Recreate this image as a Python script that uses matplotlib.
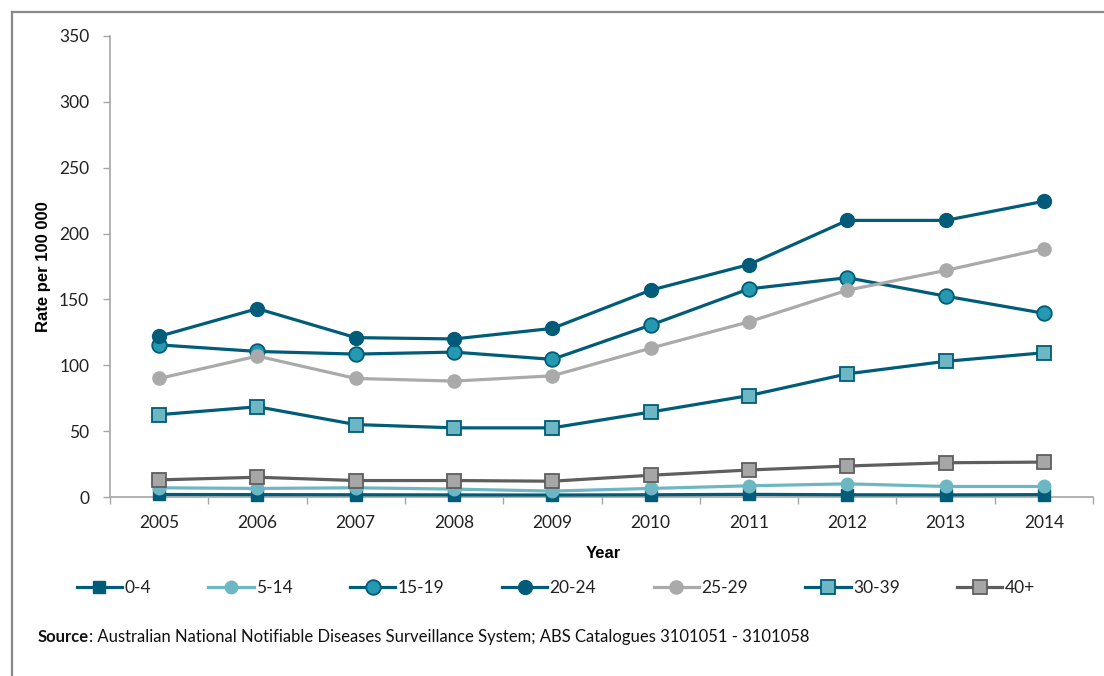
import matplotlib
matplotlib.use("Agg")
import matplotlib.pyplot as plt
from matplotlib.ticker import FixedLocator, MultipleLocator

years = ["2005", "2006", "2007", "2008", "2009", "2010", "2011", "2012", "2013", "2014"]

rate_0_4 = [1.9, 1.8, 1.7, 1.6, 1.5, 1.7, 2.0, 1.7, 1.6, 1.8]
rate_5_14 = [7.0, 6.5, 7.0, 6.0, 4.5, 6.5, 8.5, 10.0, 8.0, 8.0]
rate_15_19 = [115.5, 110.5, 108.5, 110.0, 104.5, 130.5, 158.0, 166.5, 152.5, 139.5]
rate_20_24 = [122.0, 143.0, 121.0, 120.0, 128.0, 157.0, 176.5, 210.0, 210.0, 224.5]
rate_25_29 = [90.0, 107.0, 90.0, 88.0, 92.0, 113.0, 133.0, 157.0, 172.0, 188.5]
rate_30_39 = [62.5, 68.5, 55.0, 52.5, 52.5, 64.5, 77.0, 93.5, 103.0, 109.5]
rate_40_plus = [13.0, 15.0, 12.5, 12.5, 12.0, 16.5, 20.5, 23.5, 26.0, 26.5]

DARK = "#005C78"
MID = "#2598B2"
LIGHT = "#6DB7C5"
GREY = "#AAAAAA"
DGREY = "#5E5E5E"
MGREY = "#A6A6A6"

series = [
    ("0-4", rate_0_4, dict(color=DARK, marker="s", ms=9, mfc=DARK, mec=DARK, mew=1.0)),
    ("5-14", rate_5_14, dict(color=LIGHT, marker="o", ms=9, mfc=LIGHT, mec=LIGHT, mew=1.0)),
    ("15-19", rate_15_19, dict(color=DARK, marker="o", ms=10.5, mfc=MID, mec=DARK, mew=1.3)),
    ("20-24", rate_20_24, dict(color=DARK, marker="o", ms=10, mfc=DARK, mec=DARK, mew=1.0)),
    ("25-29", rate_25_29, dict(color=GREY, marker="o", ms=9.5, mfc=GREY, mec=GREY, mew=1.0)),
    ("30-39", rate_30_39, dict(color=DARK, marker="s", ms=10.5, mfc=LIGHT, mec=DARK, mew=1.3)),
    ("40+", rate_40_plus, dict(color=DGREY, marker="s", ms=10.5, mfc=MGREY, mec=DGREY, mew=1.3)),
]

W, H = 1104, 676
fig = plt.figure(figsize=(W / 100, H / 100), dpi=100)
fig.patch.set_facecolor("white")

ax = fig.add_axes([110 / W, 1 - 497 / H, (1093 - 110) / W, (497 - 36) / H])
x = list(range(len(years)))
for name, vals, style in series:
    ax.plot(x, vals, lw=2.3, label=name, solid_joinstyle="round", clip_on=False, zorder=3, **style)

ax.set_xlim(-0.5, len(years) - 0.5)
ax.set_ylim(0, 350)
ax.yaxis.set_major_locator(MultipleLocator(50))

ax.set_xticks(x)
ax.set_xticklabels(years)
ax.xaxis.set_minor_locator(FixedLocator([i - 0.5 for i in range(len(years) + 1)]))
ax.tick_params(axis="x", which="major", length=0, pad=13)
ax.tick_params(axis="x", which="minor", length=5, width=1, color="#A6A6A6", direction="out")
ax.tick_params(axis="y", which="major", length=5, width=1, color="#A6A6A6", direction="out", pad=10)

for side in ("top", "right"):
    ax.spines[side].set_visible(False)
for side in ("left", "bottom"):
    ax.spines[side].set_color("#A6A6A6")
    ax.spines[side].set_linewidth(1.2)
    ax.spines[side].set_zorder(2)

for lbl in ax.get_xticklabels() + ax.get_yticklabels():
    lbl.set_fontfamily("Lato")
    lbl.set_fontsize(12.5)
    lbl.set_color("#222222")

fig.text(603 / W, 1 - 553 / H, "Year", ha="center", va="center",
         fontfamily="Liberation Sans", fontweight="bold", fontsize=12)
fig.text(44 / W, 1 - 267 / H, "Rate per 100 000", ha="center", va="center", rotation=90,
         fontfamily="Liberation Sans", fontweight="bold", fontsize=12)

leg = fig.legend(loc="center", bbox_to_anchor=(556 / W, 1 - 588 / H), ncol=7, frameon=False,
                 handlelength=2.6, handletextpad=0.15, columnspacing=3.3,
                 prop={"family": "Lato", "size": 12.5})
for t in leg.get_texts():
    t.set_color("#222222")

src_y = 1 - 637 / H
t1 = fig.text(38 / W, src_y, "Source", ha="left", va="center",
              fontfamily="Lato", fontweight="bold", fontsize=12, color="#111111")
fig.canvas.draw()
bb = t1.get_window_extent(renderer=fig.canvas.get_renderer())
fig.text(bb.x1 / W, src_y, ": Australian National Notifiable Diseases Surveillance System; ABS Catalogues 3101051 - 3101058",
         ha="left", va="center", fontfamily="Lato", fontsize=12, color="#111111")

# outer frame: top and left edges
fig.add_artist(plt.Line2D([12 / W, 1.0], [1 - 12 / H, 1 - 12 / H], transform=fig.transFigure,
                          color="#888888", lw=1.6))
fig.add_artist(plt.Line2D([12 / W, 12 / W], [0.0, 1 - 12 / H], transform=fig.transFigure,
                          color="#888888", lw=1.6))

fig.savefig("out.png", dpi=100)
